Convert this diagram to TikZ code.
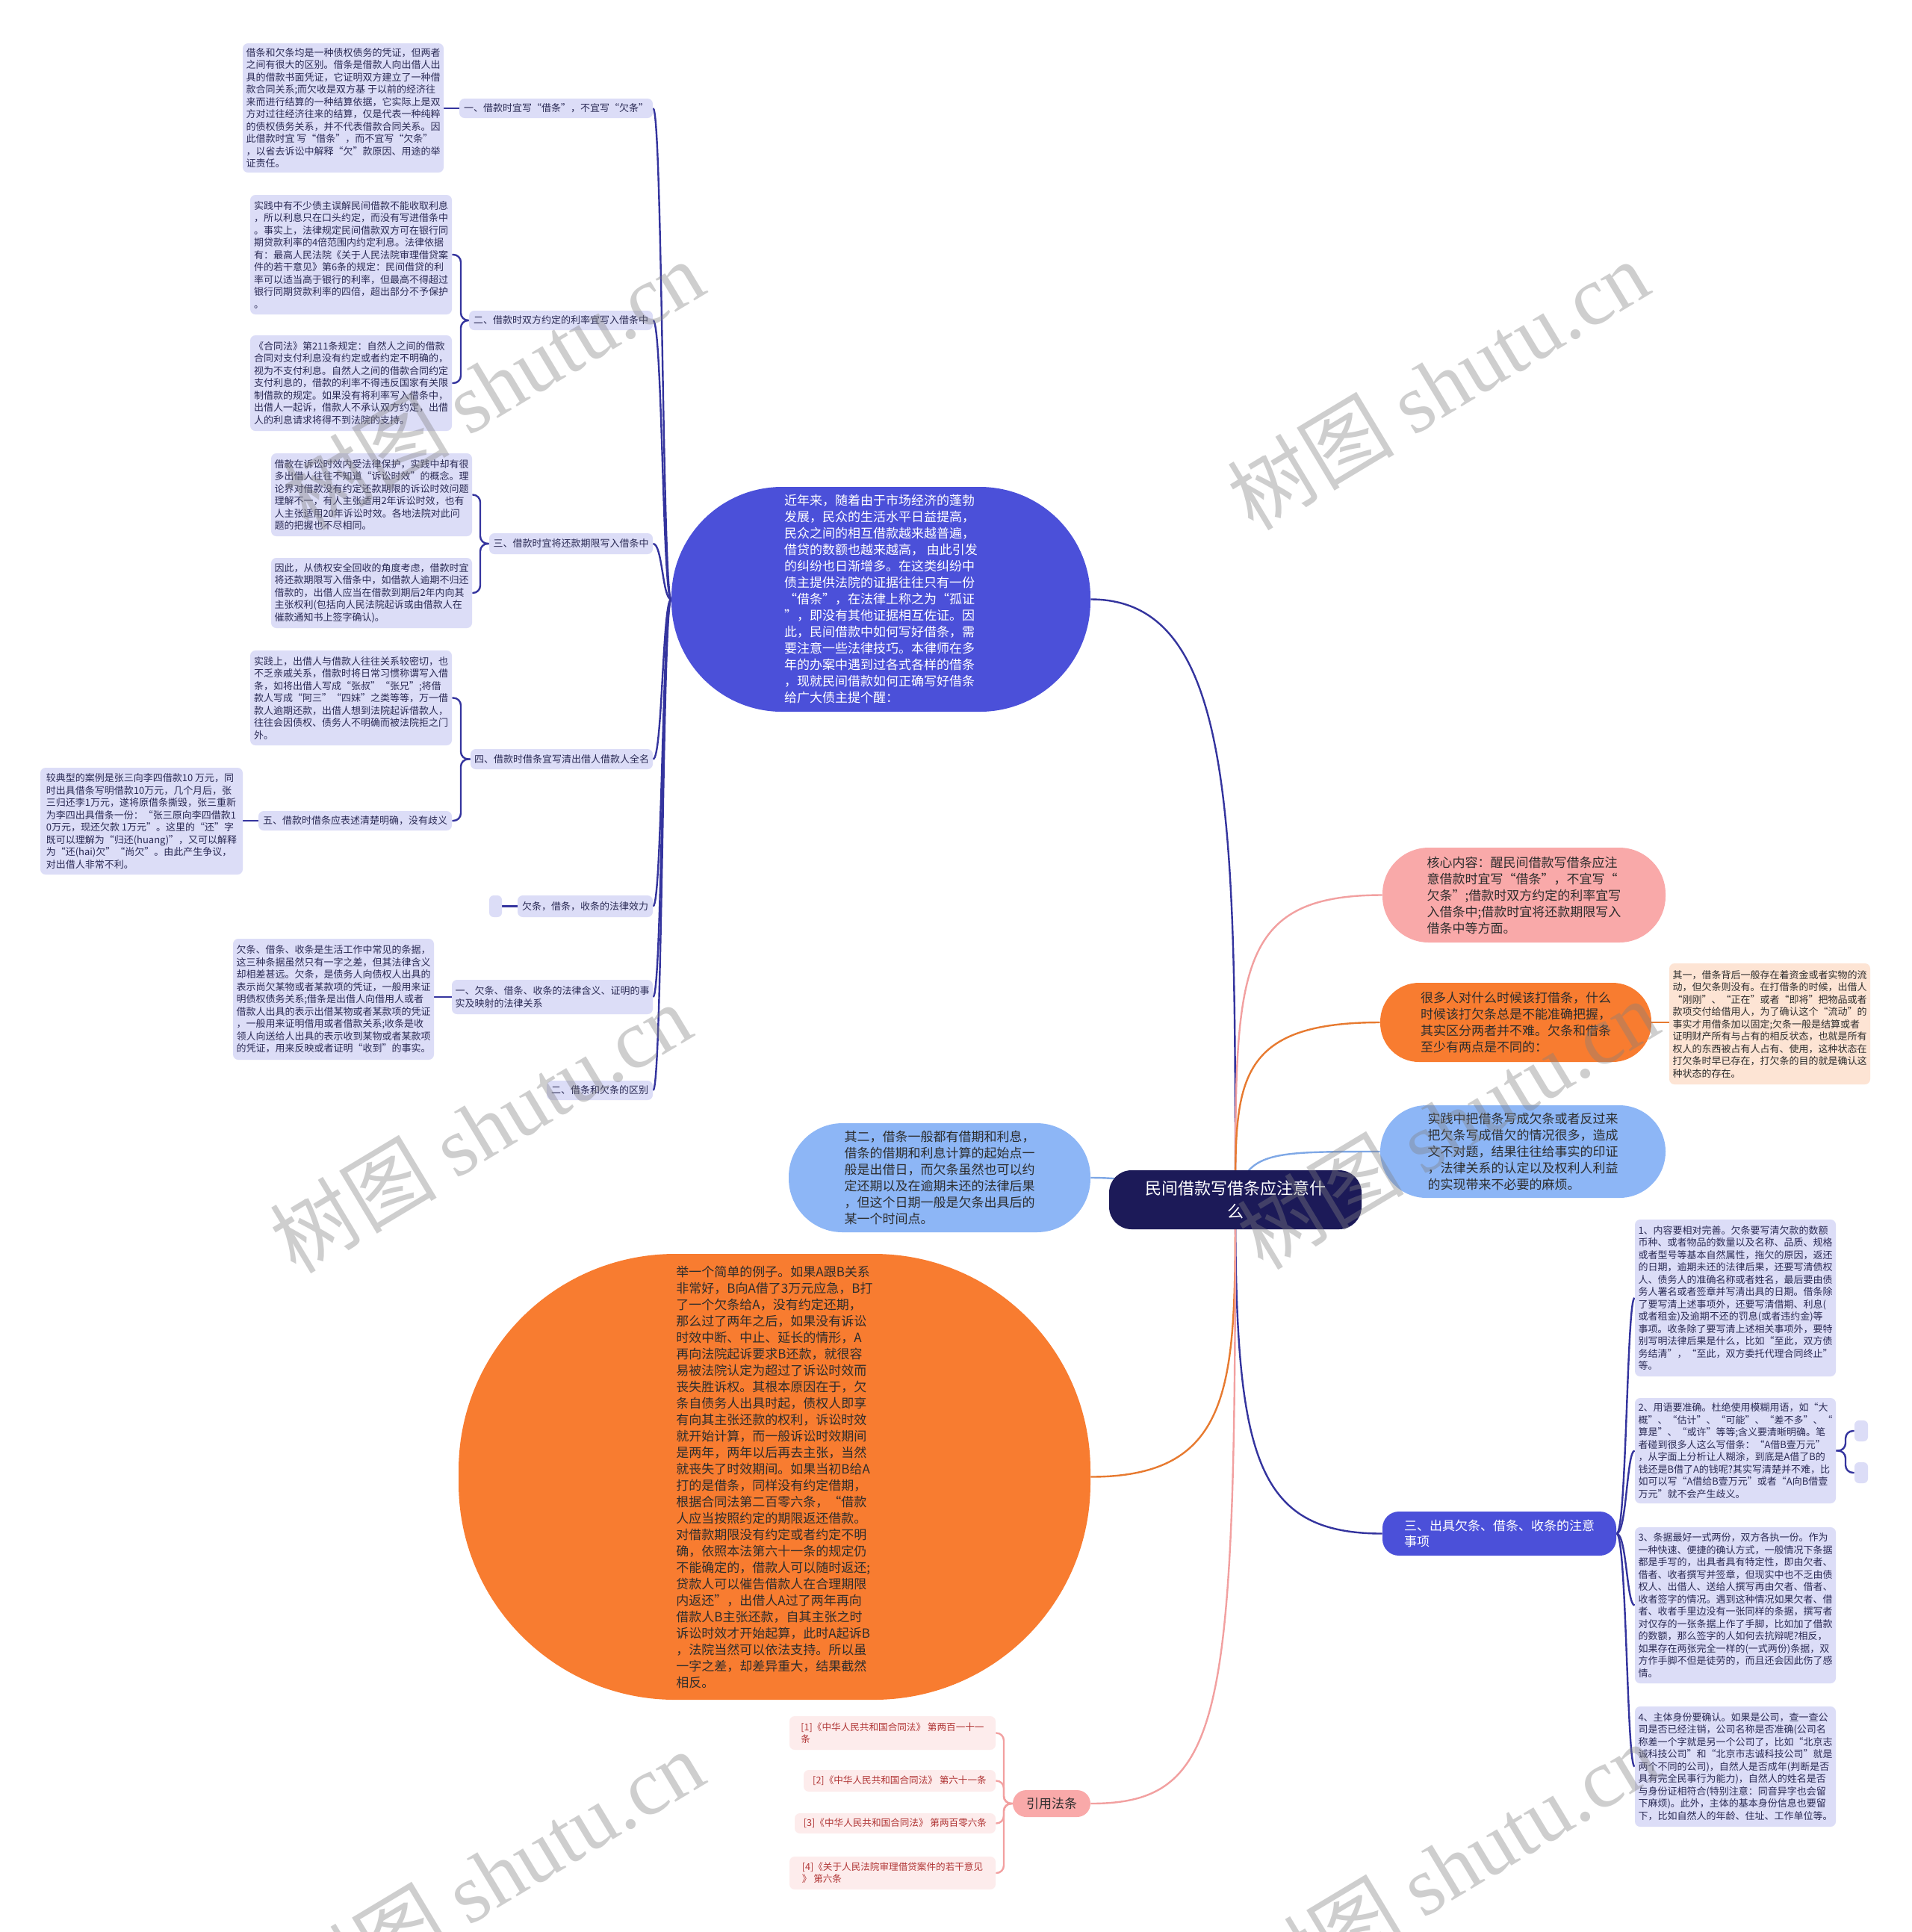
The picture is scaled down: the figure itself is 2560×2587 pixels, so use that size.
\documentclass[tikz,border=0pt]{standalone}
\usepackage{fontspec}
\setmainfont{Noto Sans CJK SC}
\newfontfamily\wmserif{Liberation Serif}
\usetikzlibrary{backgrounds}
\definecolor{lav}{HTML}{DCDDF7}
\definecolor{lavtext}{HTML}{2B2B55}
\definecolor{navyline}{HTML}{34349E}
\definecolor{royal}{HTML}{4B50D9}
\definecolor{centerc}{HTML}{1C1A58}
\definecolor{pinkc}{HTML}{F9A9A9}
\definecolor{pinkline}{HTML}{F2A0A0}
\definecolor{orangec}{HTML}{F87C30}
\definecolor{orangeline}{HTML}{E77A30}
\definecolor{lblue}{HTML}{8DB6F6}
\definecolor{lblueline}{HTML}{7FA8E6}
\definecolor{peach}{HTML}{FDE4D4}
\definecolor{citebg}{HTML}{FDECEC}
\definecolor{citetext}{HTML}{B03434}
\definecolor{darktext}{HTML}{2D2D2D}
\tikzset{
  sz/.style 2 args={minimum width={#1*0.5pt}, minimum height={#2*0.5pt}},
  lavbox/.style={inner sep=0pt, align=left, fill=lav, rounded corners=3.5pt, text=lavtext, font=\fontsize{6.5pt}{8.25pt}\selectfont},
  lablbox/.style={lavbox},
  emptybox/.style={inner sep=0pt, fill=lav, rounded corners=3pt},
  peachbox/.style={lavbox, fill=peach, text=darktext},
  citebox/.style={inner sep=0pt, align=left, fill=citebg, rounded corners=3.5pt, text=citetext, font=\fontsize{6.3pt}{8pt}\selectfont},
  stad/.style={inner sep=0pt, align=left, rounded corners=#1, font=\fontsize{8.5pt}{11pt}\selectfont},
  navyl/.style={draw=navyline, line width=1.2pt},
  pinkl/.style={draw=pinkline, line width=1.2pt},
  orangel/.style={draw=orangeline, line width=1.2pt},
  bluel/.style={draw=lblueline, line width=1.2pt},
  wm/.style={inner sep=0pt, rotate=31, text=gray, text opacity=0.38, font=\fontsize{56pt}{56pt}\selectfont},
}
\begin{document}
\begin{tikzpicture}[x=0.5pt,y=-0.5pt]
\useasboundingbox (0,0) rectangle (2560,2587);

% ---------- central ----------
\node[stad=15pt, fill=centerc, text=white, align=center, font=\fontsize{11pt}{15.5pt}\selectfont, sz={338}{79}] (C) at (1654,1606.5) {民间借款写借条应注意什\\么};

% ---------- left main ellipse ----------
\node[stad=74pt, fill=royal, text=white, sz={561}{301}] (E) at (1179.5,802.5) {近年来，随着由于市场经济的蓬勃\\发展，民众的生活水平日益提高，\\民众之间的相互借款越来越普遍，\\借贷的数额也越来越高， 由此引发\\的纠纷也日渐增多。在这类纠纷中\\债主提供法院的证据往往只有一份\\“借条”，在法律上称之为“孤证\\”，即没有其他证据相互佐证。因\\此，民间借款中如何写好借条，需\\要注意一些法律技巧。本律师在多\\年的办案中遇到过各式各样的借条\\，现就民间借款如何正确写好借条\\给广大债主提个醒：};

% ---------- left labels ----------
\node[lablbox, sz={259}{26}] (L1) at (744.5,145) {一、借款时宜写“借条”，不宜写“欠条”};
\node[lablbox, sz={246}{26}] (L2) at (751,429) {二、借款时双方约定的利率宜写入借条中};
\node[lablbox, sz={219}{28}] (L3) at (764.5,728) {三、借款时宜将还款期限写入借条中};
\node[lablbox, sz={244}{27}] (L4) at (752,1016.5) {四、借款时借条宜写清出借人借款人全名};
\node[lablbox, sz={259}{26}] (L5) at (475.5,1099) {五、借款时借条应表述清楚明确，没有歧义};
\node[lablbox, sz={181}{29}] (Lq) at (783.5,1213.5) {欠条，借条，收条的法律效力};
\node[emptybox, sz={17}{29}] (Eq) at (663.5,1213.5) {};
\node[lablbox, sz={269}{46}] (L6) at (739.5,1335) {一、欠条、借条、收条的法律含义、证明的事\\实及映射的法律关系};
\node[lablbox, sz={142}{26}] (L7) at (803,1460) {二、借条和欠条的区别};

% ---------- left text blocks ----------
\node[lavbox, sz={269}{173}] (T1) at (459.5,144.5) {借条和欠条均是一种债权债务的凭证，但两者\\之间有很大的区别。借条是借款人向出借人出\\具的借款书面凭证，它证明双方建立了一种借\\款合同关系;而欠收是双方基 于以前的经济往\\来而进行结算的一种结算依据，它实际上是双\\方对过往经济往来的结算，仅是代表一种纯粹\\的债权债务关系，并不代表借款合同关系。因\\此借款时宜 写“借条”，而不宜写“欠条”\\，以省去诉讼中解释“欠”款原因、用途的举\\证责任。};
\node[lavbox, sz={270}{160}] (T2a) at (470,341) {实践中有不少债主误解民间借款不能收取利息\\，所以利息只在口头约定，而没有写进借条中\\。事实上，法律规定民间借款双方可在银行同\\期贷款利率的4倍范围内约定利息。法律依据\\有：最高人民法院《关于人民法院审理借贷案\\件的若干意见》第6条的规定：民间借贷的利\\率可以适当高于银行的利率，但最高不得超过\\银行同期贷款利率的四倍，超出部分不予保护\\。};
\node[lavbox, sz={270}{128}] (T2b) at (470,513) {《合同法》第211条规定：自然人之间的借款\\合同对支付利息没有约定或者约定不明确的，\\视为不支付利息。自然人之间的借款合同约定\\支付利息的，借款的利率不得违反国家有关限\\制借款的规定。如果没有将利率写入借条中，\\出借人一起诉，借款人不承认双方约定，出借\\人的利息请求将得不到法院的支持。};
\node[lavbox, sz={269}{111}] (T3a) at (497.5,662.5) {借款在诉讼时效内受法律保护，实践中却有很\\多出借人往往不知道“诉讼时效”的概念。理\\论界对借款没有约定还款期限的诉讼时效问题\\理解不一，有人主张适用2年诉讼时效，也有\\人主张适用20年诉讼时效。各地法院对此问\\题的把握也不尽相同。};
\node[lavbox, sz={269}{94}] (T3b) at (497.5,794) {因此，从债权安全回收的角度考虑，借款时宜\\将还款期限写入借条中，如借款人逾期不归还\\借款的，出借人应当在借款到期后2年内向其\\主张权利(包括向人民法院起诉或由借款人在\\催款通知书上签字确认)。};
\node[lavbox, sz={270}{127}] (T4a) at (470,934.5) {实践上，出借人与借款人往往关系较密切，也\\不乏亲戚关系，借款时将日常习惯称谓写入借\\条，如将出借人写成“张叔”“张兄”;将借\\款人写成“阿三”“四妹”之类等等，万一借\\款人逾期还款，出借人想到法院起诉借款人，\\往往会因债权、债务人不明确而被法院拒之门\\外。};
\node[lavbox, sz={271}{143}] (T5) at (189.5,1099.5) {较典型的案例是张三向李四借款10 万元，同\\时出具借条写明借款10万元，几个月后，张\\三归还李1万元，遂将原借条撕毁，张三重新\\为李四出具借条一份：“张三原向李四借款1\\0万元，现还欠款 1万元”。这里的“还”字\\既可以理解为“归还(huang)”，又可以解释\\为“还(hai)欠”“尚欠”。由此产生争议，\\对出借人非常不利。};
\node[lavbox, sz={269}{162}] (T6) at (446.5,1338) {欠条、借条、收条是生活工作中常见的条据，\\这三种条据虽然只有一字之差，但其法律含义\\却相差甚远。欠条，是债务人向债权人出具的\\表示尚欠某物或者某款项的凭证，一般用来证\\明债权债务关系;借条是出借人向借用人或者\\借款人出具的表示出借某物或者某款项的凭证\\，一般用来证明借用或者借款关系;收条是收\\领人向送给人出具的表示收到某物或者某款项\\的凭证，用来反映或者证明“收到”的事实。};

% ---------- right stadiums ----------
\node[stad=31pt, fill=pinkc, text=darktext, sz={379}{127}] (P) at (2040.5,1198.5) {核心内容：醒民间借款写借条应注\\意借款时宜写“借条”，不宜写“\\欠条”;借款时双方约定的利率宜写\\入借条中;借款时宜将还款期限写入\\借条中等方面。};
\node[stad=26pt, fill=orangec, text=darktext, sz={363}{106}] (O) at (2029.5,1369) {很多人对什么时候该打借条，什么\\时候该打欠条总是不能准确把握，\\其实区分两者并不难。欠条和借条\\至少有两点是不同的：};
\node[peachbox, sz={269}{162}] (Pe) at (2369.5,1371) {其一，借条背后一般存在着资金或者实物的流\\动，但欠条则没有。在打借条的时候，出借人\\“刚刚”、“正在”或者“即将”把物品或者\\款项交付给借用人，为了确认这个“流动”的\\事实才用借条加以固定;欠条一般是结算或者\\证明财产所有与占有的相反状态，也就是所有\\权人的东西被占有人占有、使用，这种状态在\\打欠条时早已存在，打欠条的目的就是确认这\\种状态的存在。};
\node[stad=31pt, fill=lblue, text=darktext, sz={382}{124}] (B1) at (2039,1542) {实践中把借条写成欠条或者反过来\\把欠条写成借欠的情况很多，造成\\文不对题，结果往往给事实的印证\\，法律关系的认定以及权利人利益\\的实现带来不必要的麻烦。};
\node[stad=36pt, fill=lblue, text=darktext, sz={404}{146}] (B2) at (1258,1577) {其二，借条一般都有借期和利息，\\借条的借期和利息计算的起始点一\\般是出借日，而欠条虽然也可以约\\定还期以及在逾期未还的法律后果\\，但这个日期一般是欠条出具后的\\某一个时间点。};
\node[stad=145pt, fill=orangec, text=darktext, sz={846}{597}] (BO) at (1037,1977.5) {举一个简单的例子。如果A跟B关系\\非常好，B向A借了3万元应急，B打\\了一个欠条给A，没有约定还期，\\那么过了两年之后，如果没有诉讼\\时效中断、中止、延长的情形，A\\再向法院起诉要求B还款，就很容\\易被法院认定为超过了诉讼时效而\\丧失胜诉权。其根本原因在于，欠\\条自债务人出具时起，债权人即享\\有向其主张还款的权利，诉讼时效\\就开始计算，而一般诉讼时效期间\\是两年，两年以后再去主张，当然\\就丧失了时效期间。如果当初B给A\\打的是借条，同样没有约定借期，\\根据合同法第二百零六条，“借款\\人应当按照约定的期限返还借款。\\对借款期限没有约定或者约定不明\\确，依照本法第六十一条的规定仍\\不能确定的，借款人可以随时返还;\\贷款人可以催告借款人在合理期限\\内返还”，出借人A过了两年再向\\借款人B主张还款，自其主张之时\\诉讼时效才开始起算，此时A起诉B\\，法院当然可以依法支持。所以虽\\一字之差，却差异重大，结果截然\\相反。};

% ---------- navy right branch ----------
\node[stad=11pt, fill=royal, text=white, font=\fontsize{8.5pt}{10.5pt}\selectfont, sz={313}{59}] (N) at (2007.5,2053.5) {三、出具欠条、借条、收条的注意\\事项};
\node[lavbox, sz={269}{210}] (R1) at (2323.5,1738) {1、内容要相对完善。欠条要写清欠款的数额\\币种、或者物品的数量以及名称、品质、规格\\或者型号等基本自然属性，拖欠的原因，返还\\的日期，逾期未还的法律后果，还要写清债权\\人、债务人的准确名称或者姓名，最后要由债\\务人署名或者签章并写清出具的日期。借条除\\了要写清上述事项外，还要写清借期、利息(\\或者租金)及逾期不还的罚息(或者违约金)等\\事项。收条除了要写清上述相关事项外，要特\\别写明法律后果是什么，比如“至此，双方债\\务结清”，“至此，双方委托代理合同终止”\\等。};
\node[lavbox, sz={269}{141}] (R2) at (2323.5,1942.5) {2、用语要准确。杜绝使用模糊用语，如“大\\概”、“估计”、“可能”、“差不多”、“\\算是”、“或许”等等;含义要清晰明确。笔\\者碰到很多人这么写借条：“A借B壹万元”\\，从字面上分析让人糊涂，到底是A借了B的\\钱还是B借了A的钱呢?其实写清楚并不难，比\\如可以写“A借给B壹万元”或者“A向B借壹\\万元”就不会产生歧义。};
\node[emptybox, sz={18}{28}] (S1) at (2492,1916) {};
\node[emptybox, sz={18}{28}] (S2) at (2492,1972) {};
\node[lavbox, sz={269}{209}] (R3) at (2323.5,2149.5) {3、条据最好一式两份，双方各执一份。作为\\一种快速、便捷的确认方式，一般情况下条据\\都是手写的，出具者具有特定性，即由欠者、\\借者、收者撰写并签章，但现实中也不乏由债\\权人、出借人、送给人撰写再由欠者、借者、\\收者签字的情况。遇到这种情况如果欠者、借\\者、收者手里边没有一张同样的条据，撰写者\\对仅存的一张条据上作了手脚，比如加了借款\\的数额，那么签字的人如何去抗辩呢?相反，\\如果存在两张完全一样的(一式两份)条据，双\\方作手脚不但是徒劳的，而且还会因此伤了感\\情。};
\node[lavbox, sz={269}{161}] (R4) at (2323.5,2365.5) {4、主体身份要确认。如果是公司，查一查公\\司是否已经注销，公司名称是否准确(公司名\\称差一个字就是另一个公司了，比如“北京志\\诚科技公司”和“北京市志诚科技公司”就是\\两个不同的公司)，自然人是否成年(判断是否\\具有完全民事行为能力)，自然人的姓名是否\\与身份证相符合(特别注意：同音异字也会留\\下麻烦)。此外，主体的基本身份信息也要留\\下，比如自然人的年龄、住址、工作单位等。};

% ---------- citations ----------
\node[stad=9pt, fill=pinkc, text=darktext, sz={104}{36}] (Y) at (1408,2415) {引用法条};
\node[citebox, sz={276}{45}] (C1) at (1195,2320.5) {[1]《中华人民共和国合同法》 第两百一十一\\条};
\node[citebox, sz={257}{29}] (C2) at (1204.5,2384.5) {[2]《中华人民共和国合同法》 第六十一条};
\node[citebox, sz={269}{27}] (C3) at (1198.5,2441.5) {[3]《中华人民共和国合同法》 第两百零六条};
\node[citebox, sz={276}{44}] (C4) at (1195,2508) {[4]《关于人民法院审理借贷案件的若干意见\\》 第六条};

% ---------- connectors ----------
\begin{pgfonlayer}{background}
\fill[white] (0,0) rectangle (2560,2587);
\draw[navyl] (C.center) .. controls (1654,1100) and (1654,802.5) .. (E.east);
\draw[pinkl] (C.center) .. controls (1654,1300) and (1654,1198.5) .. (P.west);
\draw[orangel] (C.center) .. controls (1654,1450) and (1654,1369) .. (O.west);
\draw[bluel] (C.center) .. controls (1670,1542) and (1700,1542) .. (B1.west);
\draw[bluel] (C.center) .. controls (1560,1606) and (1560,1577) .. (B2.east);
\draw[orangel] (C.center) .. controls (1654,1850) and (1654,1977.5) .. (BO.east);
\draw[navyl] (C.center) .. controls (1654,1950) and (1680,2053.5) .. (N.west);
\draw[pinkl] (C.center) .. controls (1654,2300) and (1640,2415) .. (Y.east);

\draw[navyl] (E.west) .. controls (887,802.5) and (887,145) .. (L1.east);
\draw[navyl] (E.west) .. controls (887,802.5) and (887,429) .. (L2.east);
\draw[navyl] (E.west) .. controls (887,802.5) and (887,728) .. (L3.east);
\draw[navyl] (E.west) .. controls (887,802.5) and (887,1016.5) .. (L4.east);
\draw[navyl] (E.west) .. controls (887,802.5) and (887,1213.5) .. (Lq.east);
\draw[navyl] (E.west) .. controls (887,802.5) and (887,1335) .. (L6.east);
\draw[navyl] (E.west) .. controls (887,802.5) and (887,1460) .. (L7.east);

\draw[navyl] (L1.west) -- (T1.east |- L1.west);
\draw[navyl, rounded corners=5pt] (L2.west) -- (617,429) -- (617,341) -- (T2a.east);
\draw[navyl, rounded corners=5pt] (L2.west) -- (617,429) -- (617,513) -- (T2b.east);
\draw[navyl, rounded corners=5pt] (L3.west) -- (643,728) -- (643,662.5) -- (T3a.east);
\draw[navyl, rounded corners=5pt] (L3.west) -- (643,728) -- (643,794) -- (T3b.east);
\draw[navyl, rounded corners=5pt] (L4.west) -- (617,1016.5) -- (617,934.5) -- (T4a.east);
\draw[navyl, rounded corners=5pt] (L4.west) -- (617,1016.5) -- (617,1099) -- (L5.east);
\draw[navyl] (L5.west) -- (T5.east |- L5.west);
\draw[navyl] (Lq.west) -- (Eq.east);
\draw[navyl] (L6.west) -- (T6.east |- L6.west);

\draw[orangel] (O.east) -- (Pe.west |- O.east);

\draw[navyl] (N.east) .. controls (2178,2053.5) and (2178,1738) .. (R1.west);
\draw[navyl] (N.east) .. controls (2178,2053.5) and (2178,1942.5) .. (R2.west);
\draw[navyl] (N.east) .. controls (2178,2053.5) and (2178,2149.5) .. (R3.west);
\draw[navyl] (N.east) .. controls (2178,2053.5) and (2178,2365.5) .. (R4.west);
\draw[navyl, rounded corners=5pt] (R2.east) -- (2471,1942.5) -- (2471,1916) -- (S1.west);
\draw[navyl, rounded corners=5pt] (R2.east) -- (2471,1942.5) -- (2471,1972) -- (S2.west);

\draw[pinkl, rounded corners=5pt] (Y.west) -- (1344,2415) -- (1344,2320.5) -- (C1.east);
\draw[pinkl, rounded corners=5pt] (Y.west) -- (1344,2415) -- (1344,2384.5) -- (C2.east);
\draw[pinkl, rounded corners=5pt] (Y.west) -- (1344,2415) -- (1344,2441.5) -- (C3.east);
\draw[pinkl, rounded corners=5pt] (Y.west) -- (1344,2415) -- (1344,2508) -- (C4.east);
\end{pgfonlayer}

% ---------- watermarks ----------
\foreach \wx/\wy [count=\i] in {660/515, 1925/515, 643/1510, 1938/1505, 660/2510, 1938/2500}
  \node[wm] (wm\i) at (\wx,\wy) {树图 {\wmserif shutu.cn}};
\end{tikzpicture}
\end{document}
